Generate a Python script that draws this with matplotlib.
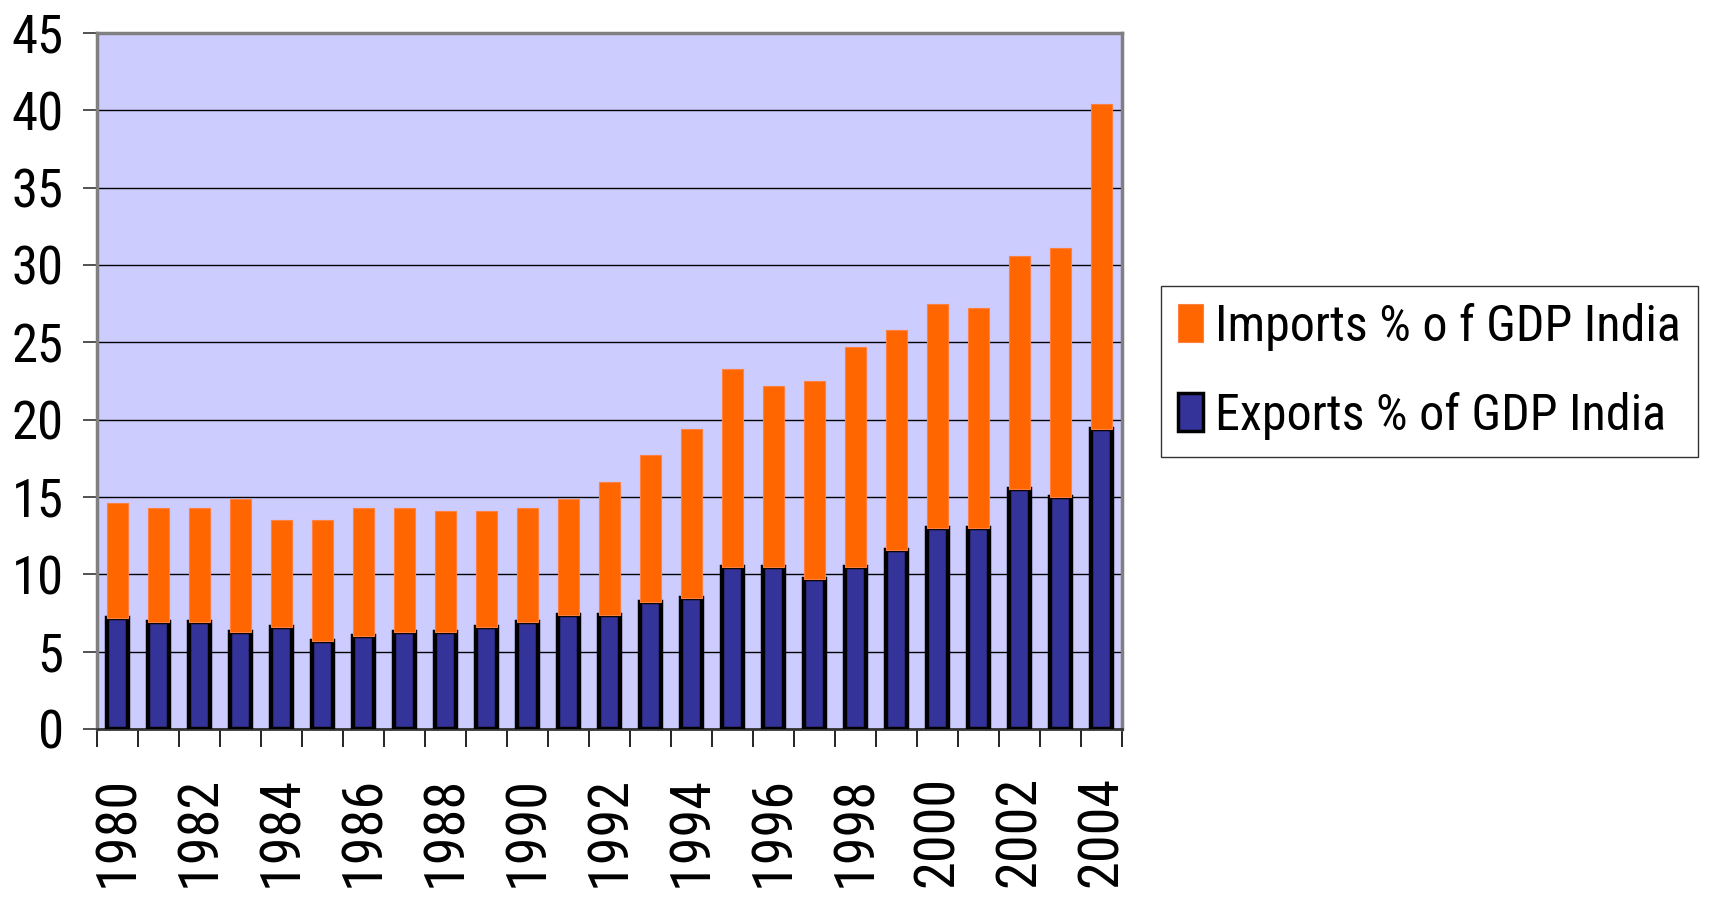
import matplotlib
matplotlib.use("Agg")
import matplotlib.pyplot as plt
from matplotlib.patches import Patch
from matplotlib import font_manager
import numpy as np

# Trade share of GDP for India, per cent
years = list(range(1980, 2005))
exports = [7.2, 6.9, 6.9, 6.3, 6.6, 5.7, 6.0, 6.3, 6.3, 6.6, 6.9, 7.4, 7.4,
           8.2, 8.5, 10.5, 10.5, 9.7, 10.5, 11.6, 13.0, 13.0, 15.5, 15.0, 19.4]
totals = [14.6, 14.3, 14.3, 14.9, 13.5, 13.5, 14.3, 14.3, 14.1, 14.1, 14.3, 14.9, 16.0,
          17.7, 19.4, 23.3, 22.2, 22.5, 24.7, 25.8, 27.5, 27.2, 30.6, 31.1, 40.4]
imports = [round(t - e, 2) for t, e in zip(totals, exports)]
y_ticks = list(range(0, 50, 5))
x_labels = [str(y) for y in years[::2]]

# Narrow grotesque face for all text, first one installed wins
installed = {f.name for f in font_manager.fontManager.ttflist}
family = next((n for n in ['Liberation Sans Narrow', 'Arial Narrow', 'Roboto Condensed',
                           'Archivo Narrow', 'Pragati Narrow'] if n in installed), None)
if family is None:
    plt.rcParams['font.family'] = ['DejaVu Sans']
    plt.rcParams['font.stretch'] = 'condensed'
else:
    plt.rcParams['font.family'] = [family, 'DejaVu Sans']

fig = plt.figure(figsize=(17.12, 8.98), dpi=100)
ax = fig.add_axes([0.0567, 0.1882, 0.5987, 0.7751])
ax.set_facecolor('#CCCCFF')

x = np.arange(len(years))
ax.bar(x, exports, width=0.5, color='#333399', edgecolor='black', linewidth=3.2, zorder=3)
ax.bar(x, imports, width=0.5, bottom=exports, color='#FF6600', edgecolor='#FF8040',
       linewidth=0.8, zorder=3)

ax.set_xlim(-0.5, len(years) - 0.5)
ax.set_ylim(0, 45)
ax.set_yticks(y_ticks)
ax.yaxis.grid(True, color='black', linewidth=1.0, zorder=1)
ax.set_axisbelow(True)
ax.tick_params(axis='y', labelsize=38, length=10, width=1.2, pad=14, color='#333333')

# Year labels under every other bar, boundary ticks between categories
ax.set_xticks(x[::2])
ax.set_xticklabels(x_labels, rotation=90)
ax.set_xticks(np.arange(-0.5, len(years), 1.0), minor=True)
ax.tick_params(axis='x', which='major', length=0, labelsize=40.5, pad=34)
ax.tick_params(axis='x', which='minor', length=13, width=1.2, color='black')

for side in ('left', 'top', 'right'):
    ax.spines[side].set_color('#808080')
    ax.spines[side].set_linewidth(2.5)
ax.spines['bottom'].set_color('#333333')
ax.spines['bottom'].set_linewidth(2.0)

handles = [Patch(facecolor='#FF6600', edgecolor='#FF8040', linewidth=0.8),
           Patch(facecolor='#333399', edgecolor='black', linewidth=2.5)]
labels = ['Imports % o f GDP India', 'Exports % of GDP India']
leg = fig.legend(handles, labels, loc='upper left', bbox_to_anchor=(0.678, 0.682),
                 fontsize=36, frameon=True, fancybox=False, edgecolor='black',
                 handlelength=0.5, handleheight=0.8, handletextpad=0.25,
                 labelspacing=0.82, borderpad=0.34, borderaxespad=0.0)
leg.get_frame().set_linewidth(1.0)

fig.savefig('out.png', dpi=100)
